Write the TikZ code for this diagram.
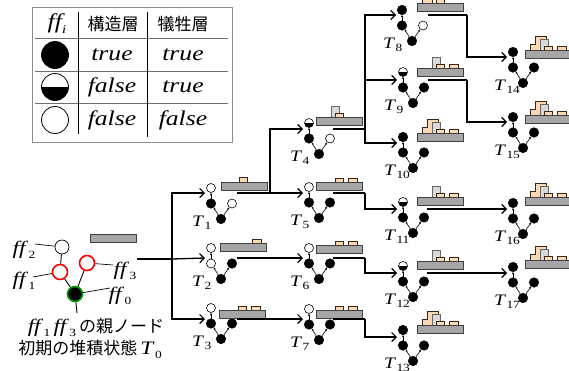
\documentclass[tikz,border=0pt]{standalone}
\usepackage{fontspec}
\setmainfont{Liberation Serif}[FakeStretch=1.22]
\newfontfamily\jp{Noto Sans CJK JP}
\usetikzlibrary{arrows.meta}

\definecolor{substr}{HTML}{A6A6A6}
\definecolor{structc}{HTML}{FAD8B6}
\definecolor{sacrc}{HTML}{D9D9D9}
\definecolor{linegray}{HTML}{6E6E6E}

\newcommand\Tlab[1]{\textit{T}\kern0.3pt\raisebox{-0.45ex}{\fontsize{11pt}{11pt}\selectfont#1}}
\newcommand\ffl[1]{\textit{ff}\kern0.3pt\raisebox{-0.45ex}{\fontsize{11pt}{11pt}\selectfont#1}}

\tikzset{
  bk/.style={circle, fill=black, draw=black, line width=0.4pt, minimum size=9.6pt, inner sep=0pt},
  wh/.style={circle, fill=white, draw=black, line width=0.6pt, minimum size=9pt, inner sep=0pt},
  hf/.style={wh, path picture={\fill[black] (path picture bounding box.west) rectangle (path picture bounding box.south east);}},
  tedge/.style={line width=0.6pt, -{Stealth[length=2.4pt,width=2.2pt]}},
  conn/.style={line width=1.3pt, -{Straight Barb[length=4.5pt,width=9pt,line width=1.2pt]}},
  plain/.style={line width=1.3pt},
  tlabel/.style={anchor=west, inner sep=0pt, font=\fontsize{16pt}{16pt}\selectfont},
  subst/.style={fill=substr, draw=black!75, line width=0.6pt},
  struct/.style={fill=structc, draw=black!70!brown, line width=0.6pt},
  sacr/.style={fill=sacrc, draw=black!60, line width=0.6pt},
  cell/.style={inner sep=0pt, font=\fontsize{21pt}{21pt}\selectfont\itshape},
  jph/.style={inner sep=0pt, font=\fontsize{17pt}{17pt}\selectfont\jp},
  bigc/.style={circle, draw=black, line width=0.8pt, minimum size=27pt, inner sep=0pt},
  ffn/.style={circle, inner sep=0pt, minimum size=15pt, line width=1.6pt},
  fflab/.style={inner sep=0pt, font=\fontsize{19pt}{19pt}\selectfont},
}

% one search state: a small tree of four flags
% #1 id, #2 #3 top flag position, #4 #5 #6 styles (top, left, right), #7 index, #8 row of the arrows
\newcommand\tstate[8]{%
  \node[#4] (#1a) at (#2,#3) {};
  \node[#5] (#1b) at (#2,#3+15.5) {};
  \node[bk] (#1r) at (#2+10,#3+31) {};
  \node[#6] (#1c) at (#2+21,#3+15.5) {};
  \draw[tedge] (#1r) -- (#1b);
  \draw[tedge] (#1r) -- (#1c);
  \draw[tedge] (#1b) -- (#1a);
  \node[tlabel] (#1l) at (#2-19,#3+35) {\Tlab{#7}};
  \coordinate (#1in) at (#2-6,#8);
}

% deposited cross-section on a substrate bar, top-left corner at (#1,#2)
\newcommand\deposit[3]{%
  \begin{scope}[shift={(#1,#2)}]
    #3
    \draw[subst] (0,0) rectangle (46,8);
  \end{scope}}
\newcommand\depA{\draw[struct] (19,-4) rectangle (27,0);}
\newcommand\depB{\draw[struct] (32,-4) rectangle (41,0);}
\newcommand\depS{\draw[sacr] (15,-11) rectangle (23,0);}
\newcommand\depW{\draw[struct] (5,0) -- (5,-6) -- (10,-6) -- (10,-14) -- (21,-14) -- (21,0) -- cycle;}

\begin{document}
\begin{tikzpicture}[x=1pt,y=-1pt]
\useasboundingbox (0,0) rectangle (569,370);
\clip (0,0) rectangle (569,370);
\fill[white] (0,0) rectangle (569,370);

% ---- legend table ----
\draw[black!45, line width=1pt] (32,7) rectangle (232,142);
\draw[linegray, line width=1pt] (35,38) -- (228,38) (35,71) -- (228,71) (35,103) -- (228,103);
\draw[black, line width=1pt] (78,12) -- (78,134) (147,12) -- (147,137);
\node[cell] (h0) at (57,24) {ff\kern0.3pt\raisebox{-0.5ex}{\fontsize{12pt}{12pt}\selectfont i}};
\node[jph] (h1) at (113,24) {構造層};
\node[jph] (h2) at (183,24) {犠牲層};
\node[bigc, fill=black] (c1) at (55,55) {};
\node[bigc, fill=white, path picture={\fill[black] (path picture bounding box.west) rectangle (path picture bounding box.south east);}] (c2) at (55,87) {};
\node[bigc, fill=white] (c3) at (55,120) {};
\node[cell] (r1a) at (112,55) {true};
\node[cell] (r1b) at (183,55) {true};
\node[cell] (r2a) at (112,87) {false};
\node[cell] (r2b) at (183,87) {true};
\node[cell] (r3a) at (112,120) {false};
\node[cell] (r3b) at (183,120) {false};

% ---- initial state T0 ----
\node[ffn, draw=black, fill=white, line width=0.7pt, minimum size=14pt] (f2) at (62,247) {};
\node[ffn, draw=red, fill=white] (f1) at (60,272) {};
\node[ffn, draw=red, fill=white] (f3) at (87,263) {};
\node[ffn, draw=green!60!black, fill=black] (f0) at (75,294) {};
\draw[line width=0.9pt] (f2) -- (f1) (f1) -- (f0) (f3) -- (f0);
\coordinate (f0tail) at (77,313);
\draw[line width=0.9pt] (f0) -- (f0tail);
\node[fflab] (l2) at (24,250) {\ffl{2}};
\node[fflab] (l1) at (24,281) {\ffl{1}};
\node[fflab] (l3) at (125,271) {\ffl{3}};
\node[fflab] (l0) at (120,296) {\ffl{0}};
\coordinate (l2e) at (35,244);
\coordinate (l1e) at (33,277);
\coordinate (l3w) at (113,265);
\coordinate (l0w) at (110,288);
\draw[line width=0.7pt] (l2e) -- (f2) (l1e) -- (f1) (f3) -- (l3w) (f0) -- (l0w);
\deposit{90}{234}{}
\node[fflab] (cap1) at (96,327) {\ffl{1}\,\ffl{3}\,{\jp\fontsize{17pt}{17pt}\selectfont の親ノード}};
\node[fflab] (cap2) at (90,349) {{\jp\fontsize{17pt}{17pt}\selectfont 初期の堆積状態}\,\Tlab{0}};
\coordinate (t0out) at (137,259);
\coordinate (j0) at (172,259);

% ---- first generation ----
\tstate{t1}{211}{188}{wh}{bk}{wh}{1}{193}
\tstate{t2}{211}{248}{wh}{wh}{bk}{2}{258}
\tstate{t3}{211}{308}{wh}{bk}{bk}{3}{319}
\deposit{221}{182}{\draw[struct] (18,-5) rectangle (26,0);}
\deposit{220}{243}{\depB}
\deposit{219}{310}{\depA\depB}
\coordinate (t1out) at (237,193);
\coordinate (t2out) at (237,258);
\coordinate (t3out) at (237,319);
\coordinate (j1) at (270,193);

% ---- second generation ----
\tstate{t4}{309}{123}{hf}{bk}{wh}{4}{129}
\tstate{t5}{309}{187}{wh}{bk}{bk}{5}{193}
\tstate{t6}{309}{248}{wh}{bk}{bk}{6}{258}
\tstate{t7}{309}{309}{wh}{bk}{bk}{7}{319}
\deposit{316}{117}{\depS\depA}
\deposit{316}{182}{\depA\depB}
\deposit{316}{245}{\depA\depB}
\deposit{316}{310}{\depA\depB}
\coordinate (t4out) at (333,129);
\coordinate (t5out) at (333,193);
\coordinate (t6out) at (333,258);
\coordinate (t7out) at (333,319);
\coordinate (j4) at (365,129);
\coordinate (j5) at (365,193);
\coordinate (j6) at (365,258);
\coordinate (j7) at (365,319);

% ---- third generation ----
\tstate{t8}{402}{10}{bk}{bk}{wh}{8}{15}
\tstate{t9}{403}{72}{hf}{bk}{bk}{9}{80}
\tstate{t10}{403}{137}{bk}{bk}{bk}{10}{143}
\tstate{t11}{403}{202}{hf}{bk}{bk}{11}{209}
\tstate{t12}{403}{266}{hf}{bk}{bk}{12}{273}
\tstate{t13}{403}{330}{bk}{bk}{bk}{13}{337}
\deposit{417}{3}{\draw[struct] (5,-8) rectangle (15,0);\depA}
\deposit{417}{68}{\depS\depA\depB}
\deposit{417}{133}{\depW\depS\depA\depB}
\deposit{417}{197}{\depS\depA\depB}
\deposit{417}{261}{\depS\depA\depB}
\deposit{417}{325}{\depW\depS\depA\depB}
\coordinate (t8out) at (428,15);
\coordinate (t9out) at (428,80);
\coordinate (t11out) at (427,209);
\coordinate (t12out) at (427,273);
\coordinate (j8) at (467,15);
\coordinate (j9) at (467,80);

% ---- fourth generation ----
\tstate{t14}{513}{52}{bk}{bk}{bk}{14}{57}
\tstate{t15}{513}{117}{bk}{bk}{bk}{15}{122}
\tstate{t16}{513}{203}{bk}{bk}{bk}{16}{209}
\tstate{t17}{513}{267}{bk}{bk}{bk}{17}{273}
\deposit{525}{50}{\depW\depS\depA\depB}
\deposit{525}{115}{\depW\depS\depA\depB}
\deposit{525}{197}{\depW\depS\depA\depB}
\deposit{525}{260}{\depW\depS\depA\depB}

% ---- transitions ----
\draw[line width=2.2pt] (t0out) -- (j0);
\draw[conn] (j0) |- (t1in);
\draw[conn] (j0) -- (t2in);
\draw[conn] (j0) |- (t3in);
\draw[conn] (t1out) -- (t5in);
\draw[conn] (j1) |- (t4in);
\draw[conn] (t2out) -- (t6in);
\draw[conn] (t3out) -- (t7in);
\draw[plain] (t4out) -- (j4);
\draw[conn] (j4) |- (t8in);
\draw[conn] (j4) |- (t9in);
\draw[conn] (j4) |- (t10in);
\draw[plain] (t5out) -- (j5);
\draw[conn] (j5) |- (t11in);
\draw[plain] (t6out) -- (j6);
\draw[conn] (j6) |- (t12in);
\draw[plain] (t7out) -- (j7);
\draw[conn] (j7) |- (t13in);
\draw[plain] (t8out) -- (j8);
\draw[conn] (j8) |- (t14in);
\draw[plain] (t9out) -- (j9);
\draw[conn] (j9) |- (t15in);
\draw[conn] (t11out) -- (t16in);
\draw[conn] (t12out) -- (t17in);
\end{tikzpicture}
\end{document}
